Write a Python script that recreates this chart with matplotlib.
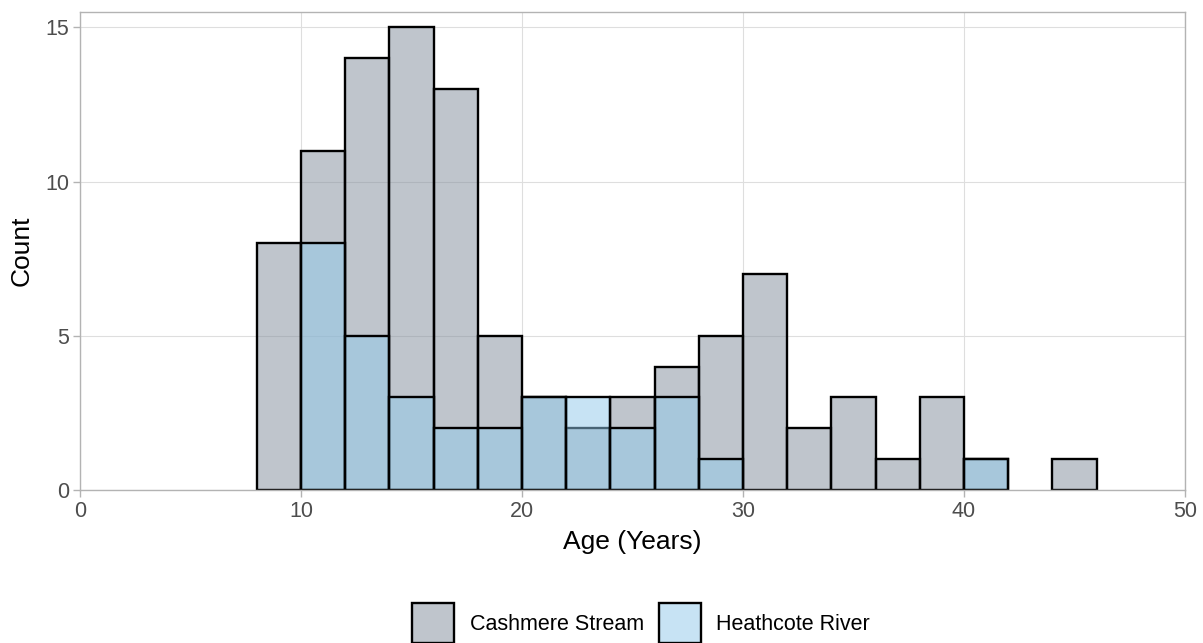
import matplotlib
matplotlib.use("Agg")
import matplotlib.pyplot as plt
from matplotlib.patches import Patch
from matplotlib.colors import to_rgba
import numpy as np

bin_edges = list(range(8, 48, 2))  # 8..46
cashmere_counts = [8, 11, 14, 15, 13, 5, 3, 2, 3, 4, 5, 7, 2, 3, 1, 3, 1, 0, 1]
heathcote_counts = [0, 8, 5, 3, 2, 2, 3, 3, 2, 3, 1, 0, 0, 0, 0, 0, 1, 0, 0]
series_names = ["Cashmere Stream", "Heathcote River"]
x_ticks = [0, 10, 20, 30, 40, 50]
y_ticks = [0, 5, 10, 15]

plt.rcParams['font.family'] = ['Liberation Sans', 'DejaVu Sans']

fig = plt.figure(figsize=(12.03, 6.43), dpi=100)
ax = fig.add_axes([80/1203, 1-490/643, (1185-80)/1203, (490-12)/643])

lefts = np.array(bin_edges[:-1])
width = 2
c_fill = to_rgba("#818d9b", 0.5)
h_fill = to_rgba("#91c9eb", 0.5)
lw = 1.7

for counts, fill, z in [(cashmere_counts, c_fill, 2), (heathcote_counts, h_fill, 3)]:
    counts = np.array(counts)
    m = counts > 0
    ax.bar(lefts[m], counts[m], width=width, align='edge', facecolor=fill,
           edgecolor='black', linewidth=lw, zorder=z)

ax.set_xlim(0, 50)
ax.set_ylim(0, 15.5)
ax.set_xticks(x_ticks)
ax.set_yticks(y_ticks)
ax.grid(True, color='#dedede', linewidth=0.8, zorder=0)
ax.set_axisbelow(True)
for s in ax.spines.values():
    s.set_color('#b3b3b3')
    s.set_linewidth(1.0)
    s.set_zorder(5)
ax.tick_params(colors='#b3b3b3', labelcolor='#4d4d4d', labelsize=15.5, length=5, width=1, pad=3)
ax.set_xlabel("Age (Years)", fontsize=19, color='black', labelpad=6)
ax.set_ylabel("Count", fontsize=19, color='black', labelpad=8)

handles = [Patch(facecolor=c_fill, edgecolor='black', linewidth=lw),
           Patch(facecolor=h_fill, edgecolor='black', linewidth=lw)]
leg = fig.legend(handles, series_names, loc='center', bbox_to_anchor=(641/1203, 1-623/643),
                 ncol=2, frameon=False, fontsize=15.5, handlelength=1.95, handleheight=2.45,
                 handletextpad=0.7, columnspacing=0.7, borderpad=0)

fig.savefig("out.png", dpi=100)
